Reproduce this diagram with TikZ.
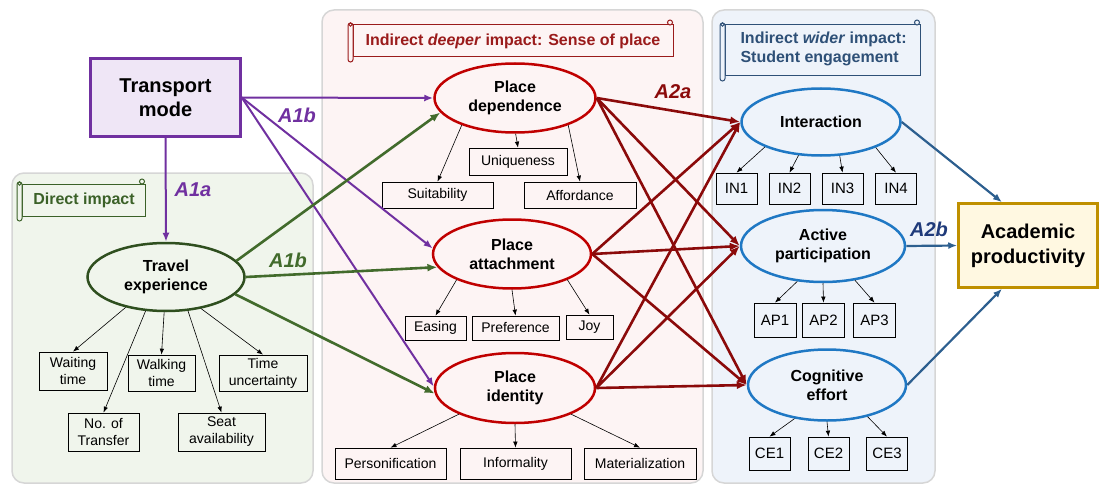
\documentclass[tikz,border=0pt]{standalone}
\usepackage{fontspec}
\setmainfont{Liberation Sans}
\usetikzlibrary{shapes.geometric,arrows.meta}
\definecolor{tmpurple}{HTML}{7030A0}
\definecolor{tmfill}{HTML}{EFE6F6}
\definecolor{greenbg}{HTML}{F0F5EC}
\definecolor{tegreen}{HTML}{2F4F1F}
\definecolor{greenline}{HTML}{426B2C}
\definecolor{greentext}{HTML}{3B6128}
\definecolor{pinkbg}{HTML}{FDF4F4}
\definecolor{pdred}{HTML}{C00000}
\definecolor{darkred}{HTML}{8B0A0A}
\definecolor{redtext}{HTML}{9A1B1B}
\definecolor{bluebg}{HTML}{EEF3FA}
\definecolor{ellblue}{HTML}{1F78C4}
\definecolor{blueline}{HTML}{2D5F8F}
\definecolor{labelblue}{HTML}{1F3A7A}
\definecolor{bluetext}{HTML}{2E5077}
\definecolor{goldc}{HTML}{BF9000}
\definecolor{acfill}{HTML}{FFF8E1}
\definecolor{panelgray}{HTML}{D6D6D6}
\newcommand\scrollshape[6]{%
  \draw[#5, line width=1pt, fill=#6] (#1+5,#2+2) rectangle (#3,#4);
  \draw[#5, line width=1pt, fill=#6, rounded corners=2.5pt] (#1,#2) rectangle (#1+5,#4+5);
  \draw[#5, line width=0.8pt] (#1+2.5,#2+1.5) circle (1.8);
  \draw[#5, line width=1pt, fill=#6] (#3-3,#2-0.5) circle (2.5);
}
\begin{document}
\begin{tikzpicture}[x=1pt,y=-1pt,
  panel/.style={draw=panelgray, line width=1.5pt, rounded corners=12pt},
  ind/.style={draw=black, line width=0.7pt, inner sep=0pt, align=center, font=\fontsize{14}{17}\selectfont},
  codebox/.style={ind, font=\fontsize{15}{17}\selectfont},
  ell/.style={ellipse, line width=2.5pt, inner sep=0pt, align=center, font=\bfseries\fontsize{16}{19}\selectfont},
  lv/.style={-{Latex[length=6pt,width=4.5pt]}, line width=0.6pt},
  purplearrow/.style={draw=tmpurple, line width=2pt, -{Latex[length=9pt,width=7pt]}},
  greenarrow/.style={draw=greenline, line width=2.6pt, -{Latex[length=10pt,width=8pt]}},
  redarrow/.style={draw=darkred, line width=2.6pt, -{Latex[length=10pt,width=8pt]}},
  bluearrow/.style={draw=blueline, line width=2.2pt, -{Latex[length=9pt,width=7pt]}},
  alabel/.style={font=\bfseries\itshape\fontsize{20}{24}\selectfont},
  scrolltext/.style={font=\bfseries\fontsize{16}{19}\selectfont},
]
\useasboundingbox (0,0) rectangle (1100,484);

% panels
\draw[panel, fill=greenbg] (12,173) rectangle (313,483);
\draw[panel, fill=pinkbg] (322,10) rectangle (703,483);
\draw[panel, fill=bluebg] (712,10) rectangle (935,483);

% scroll labels
\scrollshape{17}{182}{145}{216}{greentext}{greenbg}
\node[scrolltext, text=greentext] (s1) at (84,200) {Direct impact};
\scrollshape{348}{23}{673}{57}{redtext}{pinkbg}
\node[scrolltext, text=redtext] (s2) at (513,41) {Indirect \textit{deeper} impact: Sense of place};
\scrollshape{720}{23}{920}{76}{bluetext}{bluebg}
\node[scrolltext, text=bluetext, align=left, anchor=west] (s3) at (737,49) {Indirect \textit{wider} impact:\\Student engagement};

% main nodes
\node[draw=tmpurple, line width=2.5pt, fill=tmfill, minimum width=150pt, minimum height=78pt, inner sep=0pt, align=center, font=\bfseries\fontsize{20}{24}\selectfont] (tm) at (165.5,97.5) {Transport\\mode};
\node[ell, draw=tegreen, fill=greenbg, minimum width=157pt, minimum height=68pt] (te) at (166,277) {Travel\\experience};
\node[ell, draw=pdred, fill=pinkbg, minimum width=161pt, minimum height=69pt] (pd) at (515,98) {Place\\dependence};
\node[ell, draw=pdred, fill=pinkbg, minimum width=158pt, minimum height=69pt] (pa) at (512,254) {Place\\attachment};
\node[ell, draw=pdred, fill=pinkbg, minimum width=160pt, minimum height=70pt] (pi) at (515,388) {Place\\identity};
\node[ell, draw=ellblue, fill=bluebg, minimum width=159pt, minimum height=67pt] (int) at (821,122) {Interaction};
\node[ell, draw=ellblue, fill=bluebg, minimum width=164pt, minimum height=72pt] (ap) at (823,246) {Active\\participation};
\node[ell, draw=ellblue, fill=bluebg, minimum width=158pt, minimum height=71pt] (ce) at (827,385) {Cognitive\\effort};
\node[draw=goldc, line width=2.5pt, fill=acfill, minimum width=139pt, minimum height=84pt, inner sep=0pt, align=center, font=\bfseries\fontsize{20}{25}\selectfont] (ac) at (1028,245.5) {Academic\\productivity};

% indicators: travel experience
\node[ind, minimum width=68pt, minimum height=38pt] (wt) at (73,371) {Waiting\\time};
\node[ind, minimum width=67pt, minimum height=36pt] (wk) at (161.5,373) {Walking\\time};
\node[ind, minimum width=88pt, minimum height=36pt] (tu) at (263,373) {Time\\uncertainty};
\node[ind, minimum width=71pt, minimum height=38pt] (nt) at (103.5,432) {No. of\\Transfer};
\node[ind, minimum width=87pt, minimum height=38pt] (sa) at (221.5,432) {Seat\\availability};
% place dependence
\node[ind, minimum width=98pt, minimum height=27pt] (uq) at (518,161.5) {Uniqueness};
\node[ind, minimum width=111pt, minimum height=26pt] (su) at (437.5,195) {Suitability};
\node[ind, minimum width=112pt, minimum height=26pt] (af) at (580,195) {Affordance};
% place attachment
\node[ind, minimum width=61pt, minimum height=24pt] (es) at (435.5,328) {Easing};
\node[ind, minimum width=87pt, minimum height=24pt] (pr) at (515.5,328) {Preference};
\node[ind, minimum width=47pt, minimum height=24pt] (jo) at (589.5,327) {Joy};
% place identity
\node[ind, minimum width=111pt, minimum height=31pt] (pe) at (390.5,463.5) {Personification};
\node[ind, minimum width=111pt, minimum height=31pt] (inf) at (515.5,463.5) {Informality};
\node[ind, minimum width=112pt, minimum height=31pt] (ma) at (640,463.5) {Materialization};
% interaction
\node[codebox, minimum width=41pt, minimum height=31pt] (in1) at (736.5,188.5) {IN1};
\node[codebox, minimum width=41pt, minimum height=31pt] (in2) at (789.5,188.5) {IN2};
\node[codebox, minimum width=41pt, minimum height=31pt] (in3) at (842.5,188.5) {IN3};
\node[codebox, minimum width=41pt, minimum height=31pt] (in4) at (896,188.5) {IN4};
% active participation
\node[codebox, minimum width=42pt, minimum height=34pt] (ap1) at (775,320) {AP1};
\node[codebox, minimum width=42pt, minimum height=34pt] (ap2) at (823.5,320) {AP2};
\node[codebox, minimum width=42pt, minimum height=34pt] (ap3) at (874.5,320) {AP3};
% cognitive effort
\node[codebox, minimum width=41pt, minimum height=33pt] (ce1) at (769.5,453.5) {CE1};
\node[codebox, minimum width=41pt, minimum height=33pt] (ce2) at (828.5,453.5) {CE2};
\node[codebox, minimum width=41pt, minimum height=33pt] (ce3) at (887,453.5) {CE3};

% indicator arrows
\draw[lv] (te.217) -- (wt.north);
\draw[lv] (te.239) -- (nt.north);
\draw[lv] (te.267) -- (wk.north);
\draw[lv] (te.303) -- (sa.north);
\draw[lv] (te.318) -- (tu.north);
\draw[lv] (pd.207) -- (su.north);
\draw[lv] (pd.271) -- (uq.north);
\draw[lv] (pd.333) -- (af.north);
\draw[lv] (pa.205) -- (es.north);
\draw[lv] (pa.270) -- (pr.north);
\draw[lv] (pa.335) -- (jo.north);
\draw[lv] (pi.205) -- (pe.north);
\draw[lv] (pi.270) -- (inf.north);
\draw[lv] (pi.335) -- (ma.north);
\draw[lv] (int.204) -- (in1.north);
\draw[lv] (int.236) -- (in2.north);
\draw[lv] (int.299) -- (in3.north);
\draw[lv] (int.335) -- (in4.north);
\draw[lv] (ap.234) -- (ap1.north);
\draw[lv] (ap.270) -- (ap2.north);
\draw[lv] (ap.313) -- (ap3.north);
\draw[lv] (ce.226) -- (ce1.north);
\draw[lv] (ce.270) -- (ce2.north);
\draw[lv] (ce.322) -- (ce3.north);

% structural paths
\draw[purplearrow] (tm.east) -- (pd.west);
\draw[purplearrow] (tm.east) -- (pa.176);
\draw[purplearrow] (tm.east) -- (pi.179);
\draw[purplearrow] (tm.south) -- (te.north);
\draw[greenarrow] (te.13) -- (pd.191);
\draw[greenarrow] (te.east) -- (pa.190);
\draw[greenarrow] (te.346) -- (pi.184);
\foreach \s in {pd,pa,pi}{\foreach \t in {int,ap,ce}{\draw[redarrow] (\s.east) -- (\t.west);}}
\draw[bluearrow] (int.east) -- (ac.121);
\draw[bluearrow] (ap.east) -- (ac.west);
\draw[bluearrow] (ce.east) -- (ac.239);

% path labels
\node[alabel, text=tmpurple] (l1) at (297,115) {A1b};
\node[alabel, text=tmpurple] (l2) at (193,190) {A1a};
\node[alabel, text=greenline] (l3) at (288,260) {A1b};
\node[alabel, text=darkred] (l4) at (673,92) {A2a};
\node[alabel, text=labelblue] (l5) at (929,229) {A2b};
\end{tikzpicture}
\end{document}
